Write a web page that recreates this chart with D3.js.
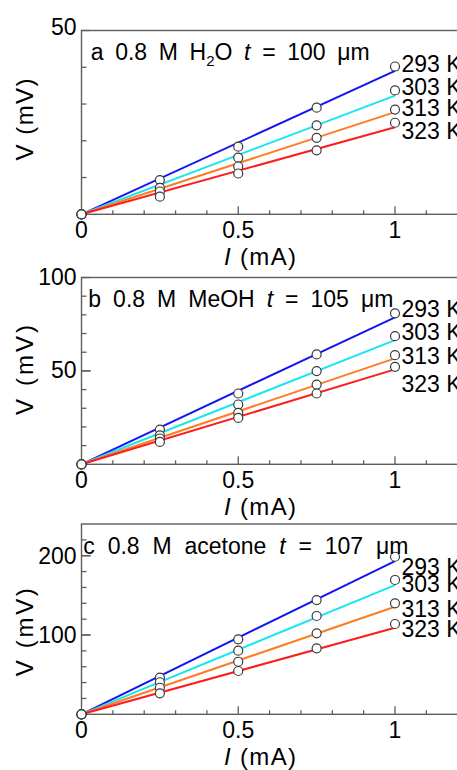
<!DOCTYPE html>
<html>
<head>
<meta charset="utf-8">
<script src="https://cdn.jsdelivr.net/npm/d3@7"></script>
<style>
body { margin: 0; background: #fff; }
svg { display: block; font-family: "Liberation Sans", Arial, sans-serif; }
</style>
</head>
<body>
<div id="chart"></div>
<script>
// Measured points (I in mA, V in mV) and the end of each measured sweep at 1 mA
var current = [0, 0.25, 0.5, 0.75, 1];
var sweepI = [0, 1];
var temps = ["293 K", "303 K", "313 K", "323 K"];

var waterV = [
	[0, 9.3, 18.4, 29.0, 40.2],
	[0, 7.2, 15.4, 24.2, 33.7],
	[0, 6.2, 13.0, 20.8, 28.5],
	[0, 4.8, 11.1, 17.4, 24.9]
];
var waterSweep = [[0, 39.0], [0, 32.3], [0, 27.8], [0, 23.7]];

var meohV = [
	[0, 18.6, 37.9, 58.8, 80.8],
	[0, 15.5, 32.0, 49.9, 68.6],
	[0, 13.8, 27.5, 42.7, 58.4],
	[0, 12.0, 24.8, 37.9, 52.2]
];
var meohSweep = [[0, 78.7], [0, 66.5], [0, 56.7], [0, 50.8]];

var acetoneV = [
	[0, 46.2, 94.6, 144.1, 198.7],
	[0, 40.4, 80.2, 124.0, 169.4],
	[0, 33.5, 66.3, 102.1, 140.0],
	[0, 26.5, 54.6, 83.2, 113.9]
];
var acetoneSweep = [[0, 193.3], [0, 163.0], [0, 135.7], [0, 109.2]];

var xMajor = [0.5, 1];
var xLabels = [0, 0.5, 1];

// Styling
var colors = ["#1414f5", "#18e6ee", "#ff7d22", "#ff1c1c"];
var fontSize = 23;

// Panel layout
var panels = [
	{
		letter: "a", solvent: [["H"], ["2", "sub"], ["O"]], thick: "100",
		points: waterV, sweep: waterSweep,
		domain: [0, 50], top: 30.5, bottom: 214.3,
		minor: d3.range(10, 50, 10), major: [50], labels: [50], labelLift: 4,
		titleX: 90.7, titleW: 279, labelShift: [5, 4.3, 6.3, 16], vShift: -3, vLen: 82
	},
	{
		letter: "b", solvent: [["MeOH"]], thick: "105",
		points: meohV, sweep: meohSweep,
		domain: [0, 100], top: 277.5, bottom: 464.3,
		minor: d3.range(10, 100, 10), major: [50, 100], labels: [50, 100], labelLift: 1,
		titleX: 88.3, titleW: 305, labelShift: [3.4, 4, 8.3, 25], vShift: -1, vLen: 90
	},
	{
		letter: "c", solvent: [["acetone"]], thick: "107",
		points: acetoneV, sweep: acetoneSweep,
		domain: [0, 240], top: 524, bottom: 714.3,
		minor: d3.range(20, 240, 20), major: [100, 200], labels: [100, 200], labelLift: 0,
		titleX: 83.3, titleW: 325, labelShift: [18.3, 11.7, 13.4, 12.7], vShift: 13, vLen: 88
	}
];

var width = 457, height = 770;

var svg = d3.select("#chart").append("svg")
	.attr("width", width)
	.attr("height", height);

var xScale = d3.scaleLinear().domain([0, 1.2]).range([81.5, 457.7]);
var xMinor = d3.range(1, 12).map(function(d) { return d / 10; });

var line = d3.line();

panels.forEach(function(p) {
	var yScale = d3.scaleLinear().domain(p.domain).range([p.bottom, p.top]);
	line.x(function(d) { return xScale(d[0]); }).y(function(d) { return yScale(d[1]); });

	var g = svg.append("g").attr("class", "panel");

	// frame
	g.append("rect")
		.attr("x", xScale(0))
		.attr("y", yScale(p.domain[1]))
		.attr("width", xScale(1.2) - xScale(0))
		.attr("height", yScale(0) - yScale(p.domain[1]))
		.attr("fill", "none")
		.attr("stroke", "#5e5e5e")
		.attr("stroke-width", 1.4);

	// x ticks, pointing in
	g.selectAll(".xtick").data(xMinor).enter().append("line")
		.attr("x1", function(d) { return xScale(d); })
		.attr("x2", function(d) { return xScale(d); })
		.attr("y1", yScale(0))
		.attr("y2", function(d) { return yScale(0) - (xMajor.some(function(m) { return Math.abs(m - d) < 1e-6; }) ? 8 : 4); })
		.attr("stroke", "#5e5e5e")
		.attr("stroke-width", 1.3);

	// y ticks, pointing in
	g.selectAll(".ytick").data(p.minor.concat(p.major)).enter().append("line")
		.attr("x1", xScale(0))
		.attr("x2", function(d) { return xScale(0) + (p.major.indexOf(d) >= 0 ? 9 : 5); })
		.attr("y1", function(d) { return yScale(d); })
		.attr("y2", function(d) { return yScale(d); })
		.attr("stroke", "#5e5e5e")
		.attr("stroke-width", 1.3);

	// tick labels
	g.selectAll(".xlab").data(xLabels).enter().append("text")
		.attr("x", function(d) { return xScale(d); })
		.attr("y", yScale(0) + 23.5)
		.attr("text-anchor", "middle")
		.style("font-size", fontSize + "px")
		.text(function(d) { return d; });

	g.selectAll(".ylab").data(p.labels).enter().append("text")
		.attr("x", xScale(0) - 5)
		.attr("y", function(d) { return yScale(d) - p.labelLift; })
		.attr("dy", "0.36em")
		.attr("text-anchor", "end")
		.style("font-size", fontSize + "px")
		.text(function(d) { return d; });

	// axis titles
	var xt = g.append("text")
		.attr("x", 260)
		.attr("y", yScale(0) + 51)
		.attr("text-anchor", "middle")
		.attr("textLength", 72)
		.attr("lengthAdjust", "spacing")
		.style("font-size", "24px");
	xt.append("tspan").style("font-style", "italic").text("I");
	xt.append("tspan").text(" (mA)");

	g.append("text")
		.attr("transform", "translate(33," + ((p.top + p.bottom) / 2 + p.vShift) + ") rotate(-90)")
		.attr("text-anchor", "middle")
		.attr("textLength", p.vLen)
		.attr("lengthAdjust", "spacing")
		.style("font-size", "24px")
		.text("V (mV)");

	// measured sweeps
	p.sweep.forEach(function(v, i) {
		g.append("path")
			.datum(sweepI.map(function(c, k) { return [c, v[k]]; }))
			.attr("d", line)
			.attr("fill", "none")
			.attr("stroke", colors[i])
			.attr("stroke-width", 2);
	});

	// points
	p.points.forEach(function(v, i) {
		g.selectAll(".pt" + i).data(current.map(function(c, k) { return [c, v[k]]; }))
			.enter().append("circle")
			.attr("cx", function(d) { return xScale(d[0]); })
			.attr("cy", function(d) { return yScale(d[1]); })
			.attr("r", 4.5)
			.attr("fill", "#fff")
			.attr("stroke", "#3a3a3a")
			.attr("stroke-width", 1.2);
	});

	// temperature labels
	temps.forEach(function(t, i) {
		var end = p.points[i][p.points[i].length - 1];
		g.append("text")
			.attr("x", 401.5)
			.attr("y", yScale(end) + p.labelShift[i])
			.style("font-size", fontSize + "px")
			.text(t);
	});

	// panel title
	var title = g.append("text")
		.attr("x", p.titleX)
		.attr("y", p.top + 29.5)
		.style("font-size", fontSize + "px");
	title.append("tspan").text(p.letter + " 0.8 M ");
	p.solvent.forEach(function(s) {
		if (s[1] === "sub") {
			title.append("tspan").attr("dy", 6).style("font-size", "15px").text(s[0]);
		} else {
			var ts = title.append("tspan").text(s[0]);
			if (title.selectAll("tspan").size() > 2) ts.attr("dy", -6);
		}
	});
	title.append("tspan").text(" ");
	title.append("tspan").style("font-style", "italic").text("t");
	title.append("tspan").text(" = " + p.thick + " \u03bcm");

	var natural = title.node().getComputedTextLength();
	var spaces = (title.text().match(/ /g) || []).length;
	title.style("word-spacing", ((p.titleW - natural) / spaces) + "px");
});
</script>
</body>
</html>
